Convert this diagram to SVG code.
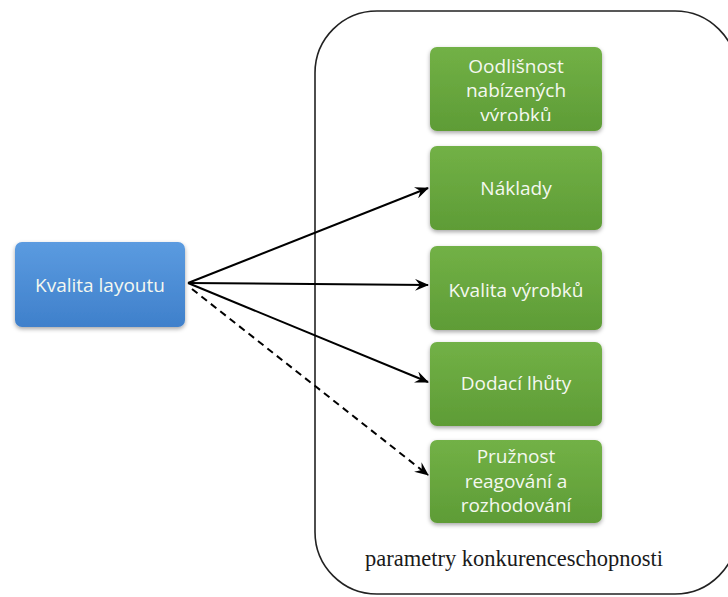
<svg xmlns="http://www.w3.org/2000/svg" width="728" height="597" viewBox="0 0 728 597">
<defs>
<linearGradient id="gG" x1="0" y1="0" x2="0" y2="1"><stop offset="0" stop-color="#72b146"/><stop offset="1" stop-color="#5e9c36"/></linearGradient>
<linearGradient id="gB" x1="0" y1="0" x2="0" y2="1"><stop offset="0" stop-color="#5b9be0"/><stop offset="1" stop-color="#3f80cb"/></linearGradient>
<filter id="sh" x="-10%" y="-10%" width="120%" height="130%"><feDropShadow dx="0" dy="2" stdDeviation="2" flood-color="#000" flood-opacity="0.35"/></filter>
<marker id="ah" viewBox="0 0 14 12" refX="13" refY="6" markerWidth="14" markerHeight="12" markerUnits="userSpaceOnUse" orient="auto"><path d="M0,0 L14,6 L0,12 L5,6 Z" fill="#000"/></marker>
<clipPath id="c1"><rect x="430" y="47" width="172" height="74"/></clipPath>
</defs>
<style>
.g{fill:url(#gG);filter:url(#sh)}
.b{fill:url(#gB);filter:url(#sh)}
.t{font-family:"Open Sans","Liberation Sans",sans-serif;font-size:19px;fill:#f4f8f0;text-anchor:middle}
.c{fill:none;stroke:#000;stroke-width:2}
</style>
<rect x="315" y="11" width="422" height="583" rx="62" ry="62" fill="#fff" stroke="#222" stroke-width="1.6"/>
<text x="514" y="566" font-family="'Liberation Serif',serif" font-size="22.5" fill="#1a1a1a" text-anchor="middle">parametry konkurenceschopnosti</text>
<g id="kvalita-layoutu"><rect class="b" x="15" y="242" width="170" height="85" rx="7"/><text class="t" x="100" y="292">Kvalita layoutu</text></g>
<g id="odlisnost"><rect class="g" x="430" y="47" width="172" height="84" rx="7"/><g clip-path="url(#c1)"><text class="t" x="516" y="73">Oodlišnost</text><text class="t" x="516" y="97">nabízených</text><text class="t" x="516" y="122">výrobků</text></g></g>
<g id="naklady"><rect class="g" x="430" y="146" width="172" height="84" rx="7"/><text class="t" x="516" y="195">Náklady</text></g>
<g id="kvalita-vyrobku"><rect class="g" x="430" y="246" width="172" height="84" rx="7"/><text class="t" x="516" y="297">Kvalita výrobků</text></g>
<g id="dodaci-lhuty"><rect class="g" x="430" y="342" width="172" height="84" rx="7"/><text class="t" x="516" y="390">Dodací lhůty</text></g>
<g id="pruznost"><rect class="g" x="430" y="440" width="172" height="83" rx="7"/><text class="t" x="516" y="463">Pružnost</text><text class="t" x="516" y="488">reagování a</text><text class="t" x="516" y="512">rozhodování</text></g>
<g id="connectors">
<line class="c" x1="188" y1="283" x2="428" y2="188" marker-end="url(#ah)"/>
<line class="c" x1="188" y1="283" x2="428" y2="285" marker-end="url(#ah)"/>
<line class="c" x1="188" y1="283" x2="428" y2="382" marker-end="url(#ah)"/>
<line class="c" x1="192" y1="289" x2="428" y2="475" stroke-dasharray="7,5" marker-end="url(#ah)"/>
</g>
</svg>
